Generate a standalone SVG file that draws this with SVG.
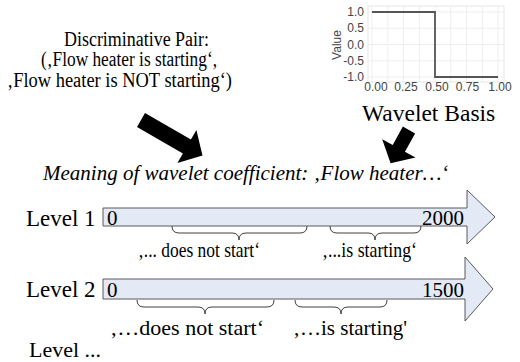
<svg xmlns="http://www.w3.org/2000/svg" width="520" height="362" viewBox="0 0 520 362">
<style>
.t{font-family:"Liberation Serif","Times New Roman",serif;fill:#000}
.ax{font-family:"Liberation Sans",Arial,sans-serif;font-size:12px;fill:#444}
.grid{stroke:#eeeeee;stroke-width:1;fill:none}
.bar{fill:#e3e9f5;stroke:#5a5a5a;stroke-width:1}
.brace{fill:none;stroke:#404040;stroke-width:1}
.big{fill:#000}
</style>
<rect width="520" height="362" fill="#fff"/>
<g id="chart">
  <rect x="368" y="6" width="136" height="76" fill="#fff" stroke="#e6e6e6"/>
  <path class="grid" d="M372,6V82M387.8,6V82M403.5,6V82M419.3,6V82M435,6V82M450.8,6V82M466.5,6V82M482.3,6V82M498,6V82M368,12H504M368,28.25H504M368,44.5H504M368,60.75H504M368,77H504"/>
  <path d="M372,12H435V77H498" fill="none" stroke="#555" stroke-width="1.8"/>
  <g class="ax" text-anchor="end">
    <text x="364" y="16">1.0</text>
    <text x="364" y="32">0.5</text>
    <text x="364" y="48.5">0.0</text>
    <text x="364" y="65">-0.5</text>
    <text x="364" y="81">-1.0</text>
  </g>
  <g class="ax" text-anchor="middle">
    <text x="376" y="91">0.00</text>
    <text x="406" y="91">0.25</text>
    <text x="437" y="91">0.50</text>
    <text x="467.5" y="91">0.75</text>
    <text x="500" y="91">1.00</text>
  </g>
  <text class="ax" text-anchor="middle" transform="translate(341,45) rotate(-90)">Value</text>
</g>
<g id="discriminative-pair" class="t" font-size="20">
  <text x="64" y="46" textLength="145" lengthAdjust="spacingAndGlyphs">Discriminative Pair:</text>
  <text x="41" y="66" textLength="176" lengthAdjust="spacingAndGlyphs">(‚Flow heater is starting‘,</text>
  <text x="7" y="87" textLength="225" lengthAdjust="spacingAndGlyphs">‚Flow heater is NOT starting‘)</text>
</g>
<g id="wavelet-basis">
  <text class="t" x="362" y="121" font-size="23.5">Wavelet Basis</text>
</g>
<g id="meaning">
  <text class="t" x="43" y="180" font-size="21" font-style="italic">Meaning of wavelet coefficient: ‚Flow heater…‘</text>
</g>
<g id="level1">
  <polygon class="bar" points="103,208 467,208 467,190 495,217 467,244 467,226 103,226"/>
  <text class="t" x="26" y="226" font-size="23">Level 1</text>
  <text class="t" x="107" y="225" font-size="21">0</text>
  <text class="t" x="464" y="225" font-size="21" text-anchor="end">2000</text>
  <path class="brace" d="M172,226Q172,233 179,233L232,233Q239,233 239,240Q239,233 246,233L300,233Q307,233 307,226"/>
  <path class="brace" d="M330,226Q330,233 337,233L368,233Q375,233 375,240Q375,233 382,233L414,233Q421,233 421,226"/>
  <text class="t" x="138" y="257" font-size="21" textLength="122" lengthAdjust="spacingAndGlyphs">‚... does not start‘</text>
  <text class="t" x="322" y="257" font-size="21" textLength="95" lengthAdjust="spacingAndGlyphs">‚...is starting‘</text>
</g>
<g id="level2">
  <polygon class="bar" points="103,279 465,279 465,257 493,289 465,321 465,299 103,299"/>
  <text class="t" x="26" y="297" font-size="23">Level 2</text>
  <text class="t" x="107" y="297" font-size="21">0</text>
  <text class="t" x="464" y="297" font-size="21" text-anchor="end">1500</text>
  <path class="brace" d="M137,300Q137,307 144,307L198,307Q205,307 205,314Q205,307 212,307L267,307Q274,307 274,300"/>
  <path class="brace" d="M295,300Q295,307 302,307L334,307Q341,307 341,314Q341,307 348,307L380,307Q387,307 387,300"/>
  <text class="t" x="110" y="335" font-size="22">‚…does not start‘</text>
  <text class="t" x="293" y="335" font-size="21">‚…is starting'</text>
</g>
<g id="level-more">
  <text class="t" x="29" y="357" font-size="22">Level ...</text>
</g>
<g id="connectors">
  <polygon class="big" transform="translate(141,120) rotate(30)" points="0,-8 53,-8 53,-19 71,0 53,19 53,8 0,8"/>
  <polygon class="big" transform="translate(409,130) rotate(119)" points="0,-7 21,-7 21,-19 38,0 21,19 21,7 0,7"/>
</g>
</svg>
